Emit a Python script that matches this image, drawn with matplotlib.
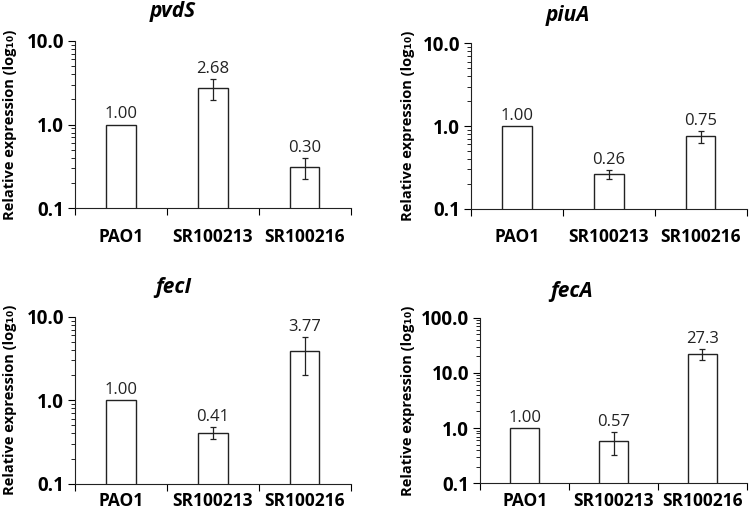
import numpy as np
import matplotlib.pyplot as plt
from matplotlib.ticker import FixedLocator, LogLocator, NullFormatter

plt.rcParams['font.family'] = ['Open Sans', 'DejaVu Sans']

strains = ['PAO1', 'SR100213', 'SR100216']

genes = ['pvdS', 'piuA', 'fecI', 'fecA']
pvds_vals = [1.00, 2.70, 0.31]
pvds_err = [0.0, 0.75, 0.085]
pvds_text = ['1.00', '2.68', '0.30']
piua_vals = [1.00, 0.26, 0.75]
piua_err = [0.0, 0.033, 0.12]
piua_text = ['1.00', '0.26', '0.75']
feci_vals = [1.00, 0.41, 3.85]
feci_err = [0.0, 0.064, 1.85]
feci_text = ['1.00', '0.41', '3.77']
feca_vals = [1.00, 0.58, 22.3]
feca_err = [0.0, 0.26, 5.0]
feca_text = ['1.00', '0.57', '27.3']
ytops = [10, 10, 10, 100]

W, H = 750, 517
# axes boxes in pixels: left, top, right, bottom
boxes = [(75, 40.7, 350.7, 208.3), (471, 43.3, 746.7, 208.7),
         (75, 316.7, 350.7, 483.7), (480.3, 317.7, 746.7, 483.3)]
title_y = [12, 15, 287, 292]
title_x = [173, 568, 173, 572]
ylab_x = [10, 408, 10, 408]
xlab_pad = [14, 14, 6, 6]

fig = plt.figure(figsize=(W / 100, H / 100), dpi=100)

data = [(pvds_vals, pvds_err, pvds_text), (piua_vals, piua_err, piua_text),
        (feci_vals, feci_err, feci_text), (feca_vals, feca_err, feca_text)]

for i, (vals, errs, texts) in enumerate(data):
    l, t, r, b = boxes[i]
    ax = fig.add_axes([l / W, 1 - b / H, (r - l) / W, (b - t) / H])
    x = np.arange(len(strains))
    ax.bar(x, vals, width=0.32, color='white', edgecolor='#222222', linewidth=1.0, zorder=2)
    ax.errorbar(x[1:], vals[1:], yerr=errs[1:], fmt='none', ecolor='#222222',
                elinewidth=0.9, capsize=2.5, capthick=0.9, zorder=3)
    for xi, v, e, s in zip(x, vals, errs, texts):
        ax.annotate(s, (xi, v + e), xytext=(0, 1.5), textcoords='offset points',
                    ha='center', va='bottom', fontsize=12, color='#222222')
    ax.set_yscale('log')
    ax.set_ylim(0.1, ytops[i])
    ax.set_xlim(-0.5, 2.5)
    majors = [m for m in [0.1, 1, 10, 100] if m <= ytops[i]]
    ax.set_yticks(majors)
    ax.set_yticklabels(['%.1f' % m for m in majors], fontweight='bold', fontsize=13.5)
    ax.yaxis.set_minor_locator(LogLocator(base=10, subs=np.arange(2, 10)))
    ax.yaxis.set_minor_formatter(NullFormatter())
    ax.xaxis.set_major_locator(FixedLocator([-0.5, 0.5, 1.5, 2.5]))
    ax.xaxis.set_major_formatter(NullFormatter())
    ax.set_xticks(x, minor=True)
    ax.set_xticklabels(strains, minor=True, fontweight='bold', fontsize=12.5)
    ax.tick_params(axis='x', which='major', direction='out', length=5, width=0.8)
    ax.tick_params(axis='x', which='minor', length=0, pad=xlab_pad[i])
    ax.tick_params(axis='y', which='major', direction='out', length=5, width=0.8, pad=3)
    ax.tick_params(axis='y', which='minor', direction='out', length=3, width=0.6)
    for sp in ['top', 'right']:
        ax.spines[sp].set_visible(False)
    for sp in ['left', 'bottom']:
        ax.spines[sp].set_linewidth(0.8)
        ax.spines[sp].set_color('#222222')
    fig.text(title_x[i] / W, 1 - title_y[i] / H, genes[i], ha='center', va='center',
             fontsize=15, fontweight='bold', fontstyle='italic')
    fig.text(ylab_x[i] / W, 1 - (t + b) / 2 / H, 'Relative expression (log\u2081\u2080)',
             rotation=90, ha='center', va='center', fontsize=10.5, fontweight='bold')

plt.savefig('out.png', dpi=100)
